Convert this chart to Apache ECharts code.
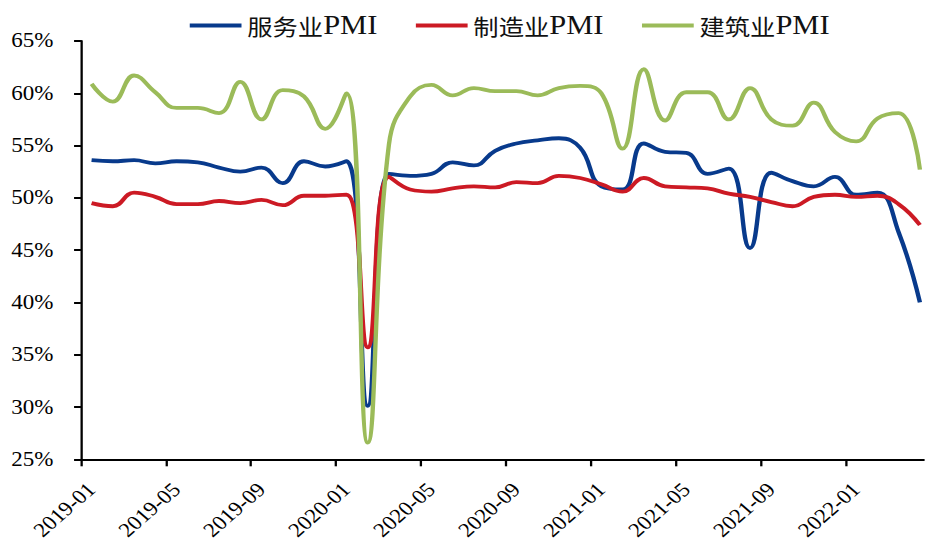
<!DOCTYPE html>
<html>
<head>
<meta charset="utf-8">
<script src="https://cdn.jsdelivr.net/npm/echarts@6/dist/echarts.min.js"></script>
<style>
  html, body { margin: 0; padding: 0; background: #fff; overflow: hidden; }
  /* the chart is laid out narrower and widened horizontally */
  #chart { width: 804.35px; height: 543px; transform: scaleX(1.15); transform-origin: 0 0; }
</style>
</head>
<body>
<div id="chart"></div>
<script>
// Monthly PMI readings, 2019-01 .. 2022-04 (%)
const months = [
  '2019-01','2019-02','2019-03','2019-04','2019-05','2019-06','2019-07','2019-08','2019-09','2019-10','2019-11','2019-12',
  '2020-01','2020-02','2020-03','2020-04','2020-05','2020-06','2020-07','2020-08','2020-09','2020-10','2020-11','2020-12',
  '2021-01','2021-02','2021-03','2021-04','2021-05','2021-06','2021-07','2021-08','2021-09','2021-10','2021-11','2021-12',
  '2022-01','2022-02','2022-03','2022-04'
];
const tickLabels = ['2019-01','2019-05','2019-09','2020-01','2020-05','2020-09','2021-01','2021-05','2021-09','2022-01'];

const servicesPMI = [
  53.6, 53.5, 53.6, 53.3, 53.5, 53.4, 52.9, 52.5, 52.9, 51.4, 53.5, 53.0,
  53.5, 30.1, 52.3, 52.1, 52.3, 53.4, 53.1, 54.5, 55.2, 55.5, 55.7, 54.8,
  51.1, 50.8, 55.2, 54.4, 54.3, 52.3, 52.8, 45.2, 52.4, 51.6, 51.1, 52.0,
  50.3, 50.5, 46.7, 40.0
];
const manufacturingPMI = [
  49.5, 49.2, 50.5, 50.1, 49.4, 49.4, 49.7, 49.5, 49.8, 49.3, 50.2, 50.2,
  50.3, 35.7, 52.0, 50.8, 50.6, 50.9, 51.1, 51.0, 51.5, 51.4, 52.1, 51.9,
  51.3, 50.6, 51.9, 51.1, 51.0, 50.9, 50.4, 50.1, 49.6, 49.2, 50.1, 50.3,
  50.1, 50.2, 49.4, 47.4
];
const constructionPMI = [
  60.9, 59.2, 61.7, 60.1, 58.6, 58.6, 58.1, 61.1, 57.5, 60.3, 59.7, 56.6,
  60.0, 26.6, 55.1, 59.7, 60.8, 59.8, 60.5, 60.2, 60.2, 59.8, 60.5, 60.7,
  60.0, 54.7, 62.3, 57.4, 60.1, 60.1, 57.5, 60.5, 57.5, 56.9, 59.1, 56.3,
  55.4, 57.6, 58.1, 52.7
];

const seriesNames = ['服务业PMI', '制造业PMI', '建筑业PMI'];
const seriesColors = ['#083a8c', '#cc1a24', '#9bbb59'];
const seriesValues = [servicesPMI, manufacturingPMI, constructionPMI];

// each month sits in the middle of its own slot on the time axis
const toPoints = vals => vals.map((v, i) => [i + 0.5, v]);
const tickPositions = tickLabels.map(t => months.indexOf(t));
// rotated labels hang just to the right of their tick
const labelPositions = tickPositions.map(p => p + 0.5);

const SERIF = "'Liberation Serif', 'Times New Roman', serif";
const FONT = "'Liberation Serif', 'Times New Roman', 'Noto Sans CJK SC', serif";
const CJK = "'Noto Sans CJK SC', sans-serif";

const chart = echarts.init(document.getElementById('chart'), null, { renderer: 'svg' });
chart.setOption({
  animation: false,
  backgroundColor: '#ffffff',
  textStyle: { fontFamily: FONT, color: '#000' },
  legend: {
    left: 165,
    top: 12,
    padding: 0,
    itemGap: 33.5,
    itemWidth: 45,
    itemHeight: 4,
    icon: 'rect',
    data: seriesNames,
    formatter: name => '{c|' + name.replace('PMI', '') + '}{p|PMI}',
    textStyle: {
      color: '#111',
      rich: {
        c: { fontFamily: CJK, fontSize: 22, color: '#111', verticalAlign: 'middle' },
        p: { fontFamily: SERIF, fontSize: 26.5, color: '#111', verticalAlign: 'middle' }
      }
    }
  },
  grid: {
    left: 70.4,
    right: 0,
    top: 41,
    bottom: 83.7,
    containLabel: false,
    outerBoundsMode: 'none'
  },
  xAxis: {
    type: 'value',
    min: 0,
    max: 39.72,
    splitLine: { show: false },
    axisLine: { show: true, onZero: false, lineStyle: { color: '#000', width: 2 } },
    axisTick: { show: true, length: 7, customValues: tickPositions, lineStyle: { color: '#000', width: 2 } },
    axisLabel: {
      customValues: labelPositions,
      rotate: 45,
      margin: 27,
      fontFamily: SERIF,
      fontSize: 20,
      color: '#000',
      formatter: v => tickLabels[labelPositions.indexOf(v)] || ''
    }
  },
  yAxis: {
    type: 'value',
    min: 25,
    max: 65,
    interval: 5,
    splitLine: { show: false },
    axisLine: { show: true, lineStyle: { color: '#000', width: 2 } },
    axisTick: { show: true, length: 6, lineStyle: { color: '#000', width: 2 } },
    axisLabel: {
      margin: 24,
      fontFamily: SERIF,
      fontSize: 20,
      color: '#000',
      formatter: '{value}%'
    }
  },
  series: seriesNames.map((name, k) => ({
    name: name,
    type: 'line',
    data: toPoints(seriesValues[k]),
    smooth: 0.45,
    symbol: 'none',
    color: seriesColors[k],
    lineStyle: { color: seriesColors[k], width: 3.8 }
  }))
});
</script>
</body>
</html>
